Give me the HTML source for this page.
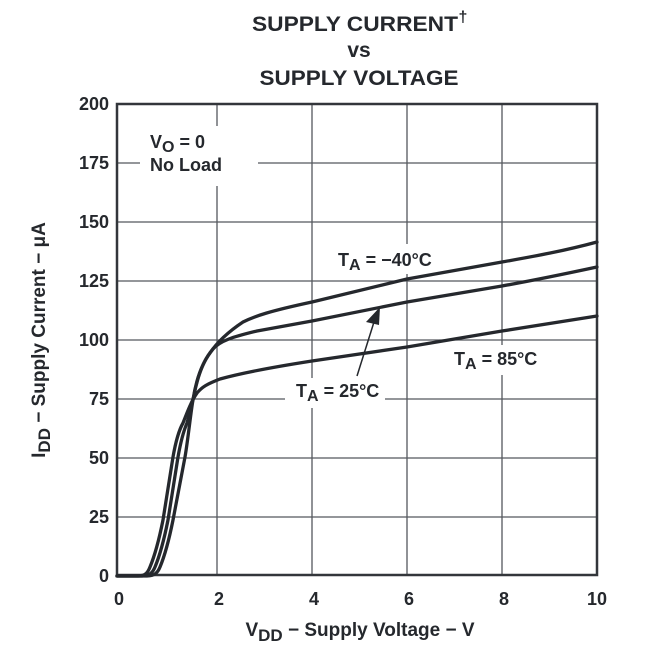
<!DOCTYPE html>
<html><head><meta charset="utf-8"><style>
html,body{margin:0;padding:0;background:#fff;}
svg{display:block;}
text{font-family:"Liberation Sans",Arial,sans-serif;font-weight:bold;fill:#25282d;}
</style></head><body>
<svg width="668" height="656" viewBox="0 0 668 656" xmlns="http://www.w3.org/2000/svg">
<g text-anchor="middle">
<text x="355" y="31" font-size="21" textLength="206" lengthAdjust="spacingAndGlyphs">SUPPLY CURRENT</text>
<text x="463" y="22" font-size="16">†</text>
<text x="359" y="57" font-size="21">vs</text>
<text x="359" y="85" font-size="21" textLength="199" lengthAdjust="spacingAndGlyphs">SUPPLY VOLTAGE</text>
</g>
<g stroke="#55585e" stroke-width="1.3" fill="none">
<path d="M217,104V575 M312,104V575 M407,104V575 M502,104V575"/>
<path d="M117,163H597 M117,222H597 M117,281H597 M117,340H597 M117,399H597 M117,458H597 M117,517H597"/>
</g>
<g fill="#fff">
<rect x="140" y="126" width="118" height="60"/>
<rect x="332" y="244" width="116" height="30"/>
<rect x="444" y="345" width="108" height="30"/>
<rect x="285" y="378" width="100" height="30"/>
</g>
<rect x="117" y="104" width="480" height="471" fill="none" stroke="#33363b" stroke-width="2.5"/>
<g fill="none" stroke="#25282d" stroke-width="3.3" stroke-linejoin="round" stroke-linecap="round">
<path d="M117,576 L138,576 C146,576 148,572 150,567 C155,555 160,535 163,520 L173,457 C176,440 179,430 183,423 C188,410 192,400 197,393 C202,387 207,384 220,379 C245,372 280,366 312,361 L407,347 L502,331 L597,316"/>
<path d="M117,576 L142,576 C150,576 153,572 155,567 C160,555 165,535 168,520 L178,457 C181,440 184,430 187,423 C190,412 192,403 194,395 C198,375 203,362 210,353 C216,344 225,334 243,322 C255,316 270,311 312,302 L407,279 L502,262 C530,257 560,252 597,242"/>
<path d="M117,576 L147,576 C155,576 158,572 160,567 C165,555 170,535 173,520 L185,457 C188,440 191,410 193,400 C196,380 202,362 213,349 C220,341 232,337 257,331 L312,321 L407,302 L502,286 C530,281 555,276 597,267"/>
</g>
<line x1="357" y1="376" x2="374" y2="322" stroke="#25282d" stroke-width="1.5"/>
<polygon points="380,307 366,322 379,325" fill="#25282d"/>
<g font-size="18">
<text x="150" y="148">V<tspan font-size="16" dy="4">O</tspan><tspan dy="-4"> = 0</tspan></text>
<text x="150" y="171">No Load</text>
<text x="338" y="266">T<tspan font-size="16" dy="4">A</tspan><tspan dy="-4"> = −40°C</tspan></text>
<text x="454" y="365">T<tspan font-size="16" dy="4">A</tspan><tspan dy="-4"> = 85°C</tspan></text>
<text x="296" y="397">T<tspan font-size="16" dy="4">A</tspan><tspan dy="-4"> = 25°C</tspan></text>
</g>
<g font-size="18" text-anchor="end">
<text x="109" y="110">200</text>
<text x="109" y="169">175</text>
<text x="109" y="228">150</text>
<text x="109" y="287">125</text>
<text x="109" y="346">100</text>
<text x="109" y="405">75</text>
<text x="109" y="464">50</text>
<text x="109" y="523">25</text>
<text x="109" y="582">0</text>
</g>
<g font-size="18" text-anchor="middle">
<text x="119" y="605">0</text>
<text x="219" y="605">2</text>
<text x="314" y="605">4</text>
<text x="409" y="605">6</text>
<text x="504" y="605">8</text>
<text x="597" y="605">10</text>
<text x="360" y="636" font-size="19">V<tspan font-size="17" dy="5">DD</tspan><tspan dy="-5"> − Supply Voltage − V</tspan></text>
<text transform="translate(45,340) rotate(-90)" font-size="19">I<tspan font-size="17" dy="5">DD</tspan><tspan dy="-5"> − Supply Current − μA</tspan></text>
</g>
</svg>
</body></html>
